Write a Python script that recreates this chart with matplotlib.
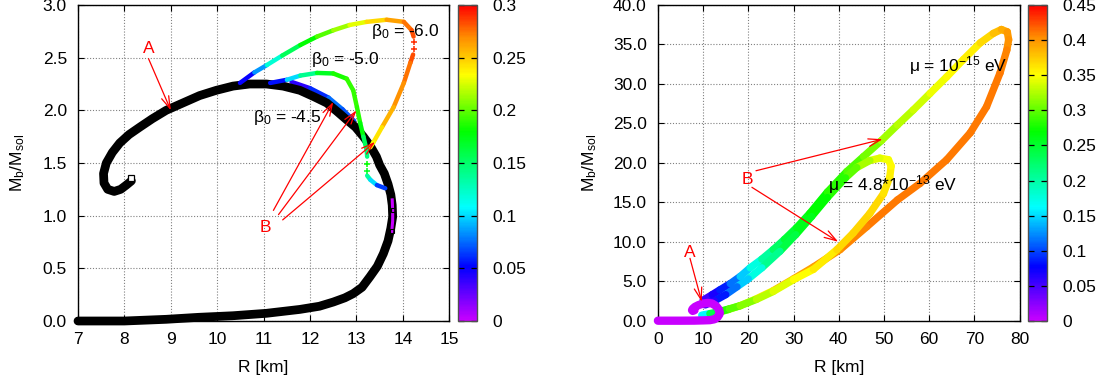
import numpy as np
import matplotlib
matplotlib.use("Agg")
import matplotlib.pyplot as plt
from matplotlib.collections import LineCollection
from matplotlib.colors import LinearSegmentedColormap, Normalize
from matplotlib.cm import ScalarMappable

FAM = "Liberation Sans"
plt.rcParams["font.family"] = [FAM, "DejaVu Sans"]
plt.rcParams["font.size"] = 12.5
plt.rcParams["mathtext.fontset"] = "custom"
plt.rcParams["mathtext.rm"] = FAM
plt.rcParams["mathtext.it"] = FAM + ":italic"
plt.rcParams["mathtext.default"] = "regular"

RED = "#ff0000"
CMAP = LinearSegmentedColormap.from_list("charge", [
    (0.00, "#c800ff"), (0.17, "#0000ff"), (0.36, "#00ffff"),
    (0.60, "#00ff00"), (0.78, "#ffff00"), (0.90, "#ff8c00"), (1.00, "#ff0000")])

# ---- left panel: massless scalar, different beta_0 ----
gr_R = [7.0, 8.0, 8.9, 9.6, 10.34, 11.06, 11.78, 12.2, 12.5, 12.75, 12.93, 13.12,
        13.29, 13.45, 13.58, 13.68, 13.74, 13.78, 13.77, 13.74, 13.68, 13.6, 13.5,
        13.43, 13.3, 13.15, 12.98, 12.79, 12.58, 12.36, 12.08, 11.78, 11.42, 11.06,
        10.7, 10.34, 9.98, 9.62, 9.26, 8.9, 8.6, 8.33, 8.1, 7.9, 7.74, 7.61, 7.55,
        7.56, 7.64, 7.78, 7.92, 8.04, 8.15]
gr_M = [0.0, 0.0, 0.016, 0.035, 0.05, 0.073, 0.11, 0.14, 0.18, 0.22, 0.26, 0.32,
        0.42, 0.52, 0.64, 0.76, 0.88, 0.99, 1.10, 1.20, 1.30, 1.40, 1.48,
        1.56, 1.66, 1.75, 1.84, 1.91, 1.99, 2.07, 2.13, 2.19, 2.23, 2.25,
        2.25, 2.23, 2.19, 2.14, 2.07, 2.0, 1.92, 1.84, 1.77, 1.69, 1.60, 1.50, 1.40,
        1.31, 1.25, 1.23, 1.25, 1.29, 1.33]
gr_end_R = [8.15]
gr_end_M = [1.36]
gr_zero_R = [13.76, 13.78, 13.78, 13.77]
gr_zero_M = [0.85, 0.95, 1.05, 1.15]

b45_R = [11.6, 12.0, 12.4, 12.7, 12.95]
b45_M = [2.27, 2.21, 2.12, 2.01, 1.90]
b45_q = [0.03, 0.05, 0.07, 0.08, 0.06]

b5_R = [11.14, 11.5, 11.79, 12.15, 12.5, 12.79, 12.93, 13.01, 13.08, 13.15, 13.22, 13.23,
        np.nan, 13.23, 13.3, 13.44, 13.62]
b5_M = [2.26, 2.29, 2.33, 2.355, 2.35, 2.30, 2.19, 2.03, 1.88, 1.75, 1.62, 1.56,
        np.nan, 1.38, 1.34, 1.29, 1.26]
b5_q = [0.03, 0.08, 0.12, 0.16, 0.18, 0.19, 0.19, 0.19, 0.185, 0.17, 0.14, 0.15,
        np.nan, 0.15, 0.12, 0.08, 0.05]
b5_pts_R = [13.22, 13.22]
b5_pts_M = [1.49, 1.42]
b5_pts_q = [0.18, 0.17]

b6_R = [10.49, 10.8, 11.07, 11.4, 11.79, 12.15, 12.5, 12.85, 13.22, 13.65, 14.02, 14.19,
        14.23, np.nan, 14.22, 14.16, 14.02, 13.80, 13.55, 13.37, 13.30]
b6_M = [2.26, 2.36, 2.43, 2.52, 2.62, 2.70, 2.76, 2.81, 2.84, 2.86, 2.84, 2.76,
        2.70, np.nan, 2.53, 2.45, 2.26, 2.03, 1.84, 1.70, 1.65]
b6_q = [0.03, 0.07, 0.10, 0.14, 0.17, 0.19, 0.205, 0.22, 0.235, 0.255, 0.27, 0.28,
        0.285, np.nan, 0.285, 0.28, 0.27, 0.265, 0.25, 0.235, 0.23]
b6_pts_R = [14.24, 14.24]
b6_pts_M = [2.65, 2.58]
b6_pts_q = [0.29, 0.29]

# ---- right panel: massive scalar, different mu ----
gr2_R = [0.0, 2.0, 5.0, 8.0, 10.0, 11.5, 12.5, 13.2, 13.6, 13.7, 13.5, 12.9, 12.0,
         11.0, 10.0, 9.0, 8.2, 7.7, 7.55, 7.7, 8.1]
gr2_M = [0.0, 0.0, 0.0, 0.01, 0.04, 0.07, 0.18, 0.45, 0.8, 1.0, 1.4, 1.85, 2.18,
         2.25, 2.17, 1.98, 1.75, 1.5, 1.33, 1.24, 1.33]

mu15_R = [10.0, 12.0, 13.7, 16.0, 18.2, 20.4, 23.0, 25.5, 28.0, 30.7, 33.6, 37.5,
          41.8, 45.5, 49.4, 53.0, 56.5, 60.2, 63.9, 67.6, 71.3, 74.2, 76.0, 77.3,
          77.6, 77.2, 75.7, 72.7, 69.1, 63.9, 58.0, 53.0, 46.2, 40.3, 34.4, 30.0,
          25.5, 21.5, 18.2, 15.5, 13.7]
mu15_M = [2.6, 3.3, 3.9, 4.7, 5.6, 6.7, 7.8, 9.0, 10.3, 11.8, 13.6, 16.3,
          18.9, 20.8, 22.8, 24.8, 26.7, 28.8, 30.9, 33.1, 35.2, 36.4, 36.9, 36.6,
          35.6, 34.3, 31.4, 27.1, 23.8, 20.4, 17.4, 15.3, 11.9, 9.0, 6.8, 5.3,
          3.8, 2.7, 1.9, 1.4, 1.1]
mu15_q = [0.045, 0.06, 0.075, 0.10, 0.13, 0.16, 0.19, 0.215, 0.24, 0.255, 0.265, 0.275,
          0.29, 0.30, 0.315, 0.325, 0.33, 0.34, 0.35, 0.355, 0.36, 0.375, 0.385, 0.395,
          0.40, 0.405, 0.41, 0.41, 0.41, 0.41, 0.41, 0.41, 0.41, 0.405, 0.40, 0.39,
          0.37, 0.35, 0.33, 0.31, 0.29]

mu13_R = [9.7, 11.5, 13.5, 15.8, 18.2, 21.8, 25.5, 30.0, 34.4, 39.6, 43.2, 46.9, 49.9,
          51.3, 51.6, 51.0, 49.1, 46.9, 44.0, 41.5, 37.5, 34.0, 30.5, 27.0, 23.0, 20.0,
          17.5, 15.0, 12.5, 10.5]
mu13_M = [0.7, 0.9, 1.15, 1.5, 1.9, 2.7, 3.7, 5.2, 6.5, 9.0, 11.1, 13.6, 16.1,
          18.2, 19.6, 20.4, 20.6, 20.3, 19.4, 18.1, 15.6, 13.2, 10.9, 8.8, 6.7, 5.3,
          4.3, 3.3, 2.5, 2.0]
mu13_q = [0.12, 0.2, 0.275, 0.29, 0.305, 0.32, 0.335, 0.345, 0.355, 0.365, 0.37, 0.37, 0.365,
          0.36, 0.355, 0.35, 0.345, 0.335, 0.31, 0.29, 0.275, 0.265, 0.255, 0.23, 0.19, 0.16,
          0.13, 0.10, 0.07, 0.05]

W, H = 1107, 385


def colored_line(ax, R, M, q, norm, lw, z):
    pts = np.column_stack([R, M]).astype(float)
    segs = np.stack([pts[:-1], pts[1:]], axis=1)
    q = np.asarray(q, dtype=float)
    c = 0.5 * (q[:-1] + q[1:])
    ok = np.isfinite(segs).all(axis=(1, 2))
    lc = LineCollection(segs[ok], cmap=CMAP, norm=norm, linewidths=lw,
                        capstyle="round", joinstyle="round", zorder=z)
    lc.set_array(c[ok])
    ax.add_collection(lc)


def style_axes(ax):
    ax.grid(True, color="#808080", linestyle=(0, (1, 1.6)), linewidth=0.8)
    ax.set_axisbelow(True)
    ax.tick_params(direction="in", length=4.5, width=0.8, top=True, right=True, pad=8)
    for s in ax.spines.values():
        s.set_linewidth(1.0)
    ax.set_xlabel("R [km]", va="top")
    ax.xaxis.set_label_coords(0.5, -0.123)
    ax.set_ylabel("M$_b$/M$_{sol}$", va="center")


def colorbar(fig, rect, norm, ticks):
    cax = fig.add_axes(rect)
    cb = fig.colorbar(ScalarMappable(norm=norm, cmap=CMAP), cax=cax, ticks=ticks)
    cb.ax.set_yticklabels(["%g" % t for t in ticks])
    cb.ax.tick_params(direction="in", length=4, width=0.9, left=True, right=True, pad=11)
    cb.outline.set_edgecolor("#505050")
    cb.outline.set_linewidth(1.0)
    return cb


def arrow(ax, start, tip):
    ax.annotate("", xy=tip, xytext=start,
                arrowprops=dict(arrowstyle="->,head_length=0.7,head_width=0.22",
                                color=RED, lw=0.9, shrinkA=0, shrinkB=0), zorder=6)


fig = plt.figure(figsize=(W / 100, H / 100), dpi=100)

# left panel
axL = fig.add_axes([78 / W, (H - 321) / H, 371.3 / W, 316 / H])
normL = Normalize(0, 0.3)
style_axes(axL)
axL.set_xlim(7, 15)
axL.set_ylim(0, 3)
axL.set_xticks(np.arange(7, 16, 1))
axL.set_yticks(np.arange(0, 3.01, 0.5))
axL.set_yticklabels(["%.1f" % v for v in np.arange(0, 3.01, 0.5)])
axL.yaxis.set_label_coords(-0.162, 0.5)

colored_line(axL, b45_R, b45_M, b45_q, normL, 3.2, 2)
axL.plot(gr_R, gr_M, color="black", lw=6.3, solid_capstyle="round",
         solid_joinstyle="round", zorder=3, clip_on=False)
axL.plot(gr_zero_R, gr_zero_M, color="#c800ff", lw=2.2, zorder=3.5)
axL.plot(gr_zero_R[::2], gr_zero_M[::2], ls="none", marker="s", ms=3.5,
         mfc="none", mec="black", mew=0.8, zorder=3.6)
axL.plot(gr_end_R, gr_end_M, ls="none", marker="s", ms=4.5, mfc="white",
         mec="black", mew=0.9, zorder=3.6)
colored_line(axL, b5_R, b5_M, b5_q, normL, 3.2, 4)
colored_line(axL, b6_R, b6_M, b6_q, normL, 3.2, 4)
axL.scatter(b5_pts_R, b5_pts_M, c=b5_pts_q, cmap=CMAP, norm=normL, marker="+",
            s=18, linewidths=1.1, zorder=4)
axL.scatter(b6_pts_R, b6_pts_M, c=b6_pts_q, cmap=CMAP, norm=normL, marker="+",
            s=18, linewidths=1.1, zorder=4)

axL.text(13.32, 2.71, "β$_0$ = -6.0", zorder=7)
axL.text(12.02, 2.437, "β$_0$ = -5.0", zorder=7)
axL.text(10.78, 1.892, "β$_0$ = -4.5", zorder=7)
axL.text(8.53, 2.54, "A", color=RED, ha="center", zorder=7)
axL.text(11.03, 0.842, "B", color=RED, ha="center", zorder=7)
arrow(axL, (8.52, 2.49), (9.0, 2.0))
arrow(axL, (11.21, 1.05), (12.5, 2.08))
arrow(axL, (11.32, 1.01), (13.0, 2.0))
arrow(axL, (11.41, 0.96), (13.40, 1.70))

colorbar(fig, [458.3 / W, (H - 321) / H, 19 / W, 316 / H], normL,
         [0, 0.05, 0.1, 0.15, 0.2, 0.25, 0.3])

# right panel
axR = fig.add_axes([657.9 / W, (H - 320.7) / H, 361.6 / W, 315.7 / H])
normR = Normalize(0, 0.45)
style_axes(axR)
axR.set_xlim(0, 80)
axR.set_ylim(0, 40)
axR.set_xticks(np.arange(0, 81, 10))
axR.set_yticks(np.arange(0, 40.1, 5))
axR.set_yticklabels(["%.1f" % v for v in np.arange(0, 40.1, 5)])
axR.yaxis.set_label_coords(-0.19, 0.5)

colored_line(axR, mu15_R, mu15_M, mu15_q, normR, 5.3, 2)
colored_line(axR, mu13_R, mu13_M, mu13_q, normR, 5.3, 3)
axR.plot(gr2_R, gr2_M, color="#c800ff", lw=6.0, solid_capstyle="round",
         solid_joinstyle="round", zorder=4, clip_on=False)

axR.text(55.6, 31.65, "μ = 10$^{-15}$ eV", zorder=7)
axR.text(37.7, 16.56, "μ = 4.8*10$^{-13}$ eV", zorder=7)
axR.text(7.1, 8.11, "A", color=RED, ha="center", zorder=7)
axR.text(19.9, 17.3, "B", color=RED, ha="center", zorder=7)
arrow(axR, (7.1, 7.9), (9.7, 2.4))
arrow(axR, (21.7, 19.0), (49.7, 23.0))
arrow(axR, (20.8, 16.9), (39.9, 10.0))

colorbar(fig, [1027.7 / W, (H - 321) / H, 19 / W, 316 / H], normR,
         [0, 0.05, 0.1, 0.15, 0.2, 0.25, 0.3, 0.35, 0.4, 0.45])

fig.savefig("out.png", dpi=100)
